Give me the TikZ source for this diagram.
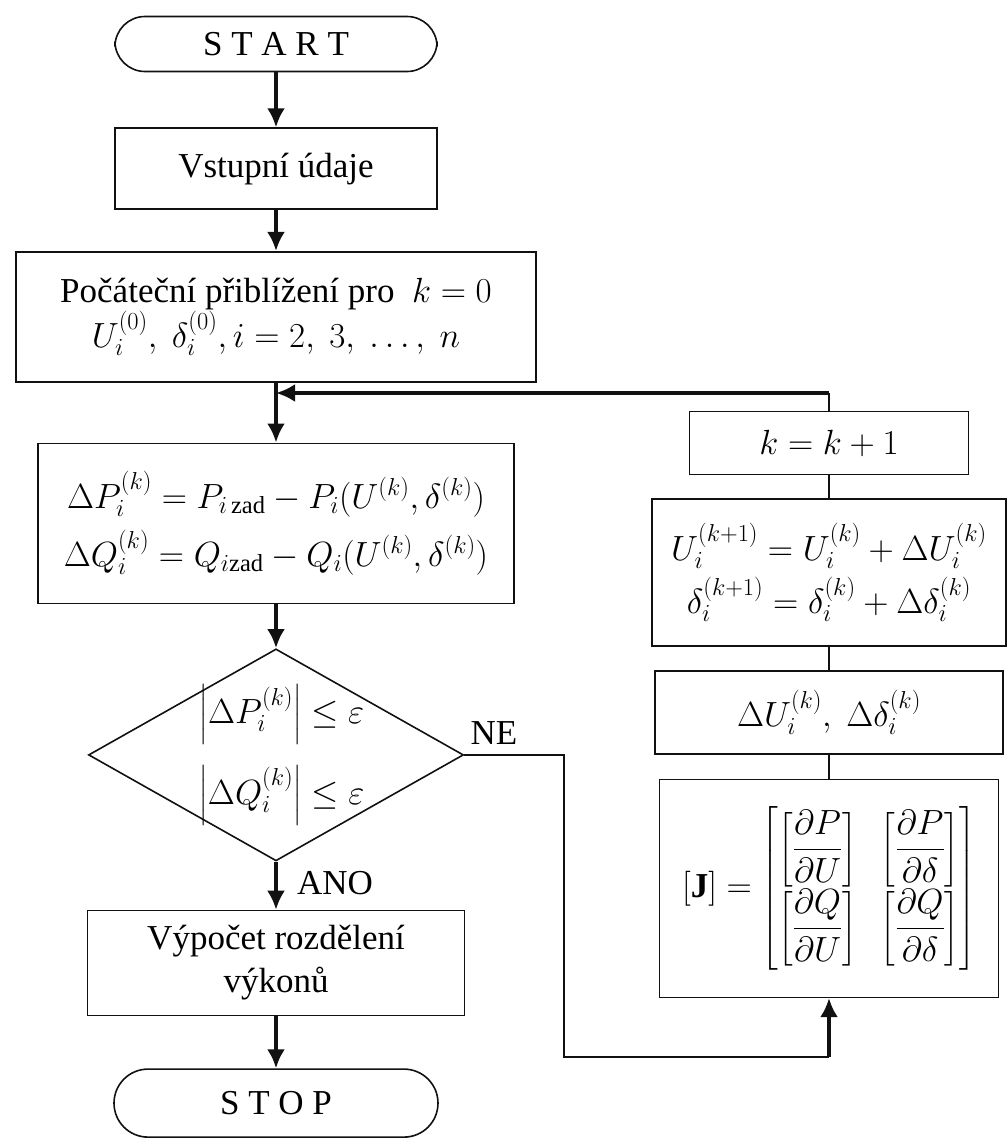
\RequirePackage{fix-cm}
\documentclass[tikz,border=0pt]{standalone}
\usepackage{amsmath}
\usepackage{fontspec}
\setmainfont{Liberation Serif}
\usetikzlibrary{positioning,arrows.meta,shapes.geometric}
\definecolor{ink}{HTML}{111111}

\begin{document}
\begin{tikzpicture}[x=1pt, y=-1pt, node distance=50pt,
  font=\fontsize{35}{43}\selectfont,
  box/.style={draw=ink, line width=1.6pt, align=center, inner sep=0pt},
  term/.style={box, rounded corners=30pt},
  flow/.style={-{Latex[length=19pt,width=18pt]}, line width=3.6pt, color=ink},
  link/.style={line width=1.6pt, color=ink}]
\useasboundingbox (0,0) rectangle (1008,1144);
% main column
\node[term, minimum width=322pt, minimum height=55pt] (start) at (276,44) {S T A R T};
\node[box, minimum width=322pt, minimum height=81pt, below=55pt of start] (data) {Vstupní údaje};
\node[box, minimum width=520pt, minimum height=130pt, below=41pt of data] (init) {Počáteční přiblížení pro\ \ $k=0$\\ $U_i^{(0)},\ \delta_i^{(0)}, i=2,\ 3,\ \ldots,\ n$};
\node[box, minimum width=476pt, minimum height=160pt, below=60pt of init] (mis) {$\Delta P_i^{(k)}=P_{i\,\mathrm{zad}}-P_i(U^{(k)},\delta^{(k)})$\\[12pt] $\Delta Q_i^{(k)}=Q_{i\mathrm{zad}}-Q_i(U^{(k)},\delta^{(k)})$};
\node[box, shape=diamond, minimum width=375pt, minimum height=212pt, below=44pt of mis] (test) {};
\node[align=center, inner sep=0pt, xshift=6pt] (cond) at (test.center) {$\left|\Delta P_i^{(k)}\right|\le\varepsilon$\\[20pt] $\left|\Delta Q_i^{(k)}\right|\le\varepsilon$};
\node[box, minimum width=377pt, minimum height=105pt, below=48pt of test] (calc) {Výpočet rozdělení\\ výkonů};
\node[term, minimum width=324pt, minimum height=68pt, rounded corners=34pt, below=52pt of calc] (stop) {S T O P};
% iteration column
\node[box, minimum width=279pt, minimum height=63pt] (kk) at (829,443) {$k=k+1$};
\node[box, minimum width=354pt, minimum height=147pt, below=23pt of kk] (upd) {$U_i^{(k+1)}=U_i^{(k)}+\Delta U_i^{(k)}$\\[8pt] $\delta_i^{(k+1)}=\delta_i^{(k)}+\Delta\delta_i^{(k)}$};
\node[box, minimum width=348pt, minimum height=83pt, below=23pt of upd] (corr) {$\Delta U_i^{(k)},\ \Delta\delta_i^{(k)}$};
\node[box, minimum width=339pt, minimum height=218pt, below=24pt of corr] (jac) {$\arraycolsep=12pt [\mathbf{J}]=\left[\begin{matrix}\left[\dfrac{\partial P}{\partial U}\right] & \left[\dfrac{\partial P}{\partial \delta}\right]\\[18pt] \left[\dfrac{\partial Q}{\partial U}\right] & \left[\dfrac{\partial Q}{\partial \delta}\right]\end{matrix}\right]$};
% labels
\node[anchor=south west, inner sep=0pt] (ne) at ([xshift=6pt,yshift=10pt]test.east) {NE};
\node[anchor=west, inner sep=0pt] (ano) at ([xshift=21pt,yshift=-21pt]test.south) {ANO};
% connectors
\coordinate (turn) at (829,393);
\coordinate (join) at (init.south |- turn);
\coordinate (bend) at (564,1057);
\coordinate (foot) at (jac.south |- bend);
\draw[flow] (start) -- (data);
\draw[flow] (data) -- (init);
\draw[flow] (init) -- (mis);
\draw[flow] (mis) -- (test);
\draw[flow] (test) -- (calc);
\draw[flow] (calc) -- (stop);
\draw[link] (jac) -- (corr);
\draw[link] (corr) -- (upd);
\draw[link] (upd) -- (kk);
\draw[link] (kk) -- (turn);
\draw[flow] (turn) -- (join);
\draw[link] (test.east) -| (bend) -- (foot);
\draw[flow] (foot) -- (jac);
\end{tikzpicture}
\end{document}
